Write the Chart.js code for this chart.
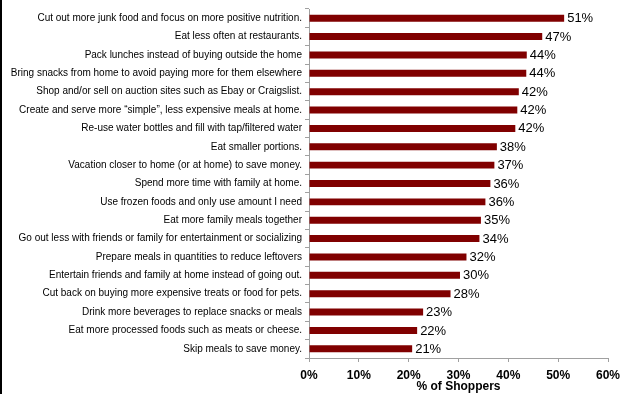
<!DOCTYPE html>
<html lang="en">
<head>
  <meta charset="UTF-8">
  <title>% of Shoppers</title>
  <script src="https://cdn.jsdelivr.net/npm/chart.js"></script>
  <style>
    html, body { margin: 0; padding: 0; background: #fff; overflow: hidden; }
    .wrap { position: relative; width: 621px; height: 394px; }
    .edge { position: absolute; left: 0; top: 0; width: 2px; height: 394px; background: #000; }
  </style>
</head>
<body>
  <div class="wrap">
    <canvas id="shoppers" width="621" height="394"></canvas>
    <div class="edge"></div>
  </div>
  <script>
    // answers, top to bottom
    const actions = [
      'Cut out more junk food and focus on more positive nutrition.',
      'Eat less often at restaurants.',
      'Pack lunches instead of buying outside the home',
      'Bring snacks from home to avoid paying more for them elsewhere',
      'Shop and/or sell on auction sites such as Ebay or Craigslist.',
      'Create and serve more \u201csimple\u201d, less expensive meals at home.',
      'Re-use water bottles and fill with tap/filtered water',
      'Eat smaller portions.',
      'Vacation closer to home (or at home) to save money.',
      'Spend more time with family at home.',
      'Use frozen foods and only use amount I need',
      'Eat more family meals together',
      'Go out less with friends or family for entertainment or socializing',
      'Prepare meals in quantities to reduce leftovers',
      'Entertain friends and family at home instead of going out.',
      'Cut back on buying more expensive treats or food for pets.',
      'Drink more beverages to replace snacks or meals',
      'Eat more processed foods such as meats or cheese.',
      'Skip meals to save money.'
    ];
    // bar lengths
    const shareOfShoppers = [51.2, 46.8, 43.7, 43.6, 42.1, 41.8, 41.4, 37.7, 37.2, 36.4, 35.4, 34.5, 34.2, 31.6, 30.3, 28.4, 22.9, 21.7, 20.7];
    // the printed labels
    const shownPct = [51, 47, 44, 44, 42, 42, 42, 38, 37, 36, 36, 35, 34, 32, 30, 28, 23, 22, 21];
    const xTicks = [0, 10, 20, 30, 40, 50, 60];

    const FONT = '"Liberation Sans", Arial, sans-serif';

    // draw the % value at the end of each bar
    const barLabels = {
      id: 'barLabels',
      afterDatasetsDraw(chart) {
        const ctx = chart.ctx;
        const meta = chart.getDatasetMeta(0);
        ctx.save();
        ctx.font = '13px ' + FONT;
        ctx.fillStyle = '#000';
        ctx.textAlign = 'left';
        ctx.textBaseline = 'middle';
        meta.data.forEach((bar, i) => {
          ctx.fillText(shownPct[i] + '%', bar.x + 3, bar.y + 0.5);
        });
        ctx.restore();
      }
    };

    const ctx = document.getElementById('shoppers').getContext('2d');

    new Chart(ctx, {
      type: 'bar',
      data: {
        labels: actions,
        datasets: [{
          data: shareOfShoppers,
          backgroundColor: '#800000',
          borderWidth: 0,
          categoryPercentage: 1,
          barPercentage: 0.38
        }]
      },
      options: {
        indexAxis: 'y',
        responsive: false,
        animation: false,
        layout: { padding: { top: 7, right: 13, bottom: 0, left: 0 } },
        plugins: {
          legend: { display: false },
          tooltip: { enabled: false }
        },
        scales: {
          x: {
            min: 0,
            max: 60,
            afterBuildTicks: (scale) => { scale.ticks = xTicks.map(v => ({ value: v })); },
            afterFit: (scale) => {
              scale.height = 36;
              scale.paddingLeft = 0;
              scale.paddingRight = 0;
            },
            border: { color: '#a0a0a0', width: 1 },
            grid: { drawOnChartArea: false, drawTicks: true, tickLength: 4, color: '#a0a0a0' },
            ticks: {
              padding: 6,
              color: '#000',
              font: { family: FONT, size: 12, weight: 'bold' },
              callback: (v) => v + '%'
            },
            title: {
              display: true,
              text: '% of Shoppers',
              color: '#000',
              font: { family: FONT, size: 12, weight: 'bold' },
              padding: { top: 0, bottom: 0 }
            }
          },
          y: {
            afterFit: (scale) => { scale.width = 309; },
            border: { color: '#a0a0a0', width: 1 },
            grid: { drawOnChartArea: false, drawTicks: true, tickLength: 4, color: '#a0a0a0' },
            ticks: {
              padding: 3,
              color: '#000',
              autoSkip: false,
              font: { family: FONT, size: 10 }
            }
          }
        }
      },
      plugins: [barLabels]
    });
  </script>
</body>
</html>
